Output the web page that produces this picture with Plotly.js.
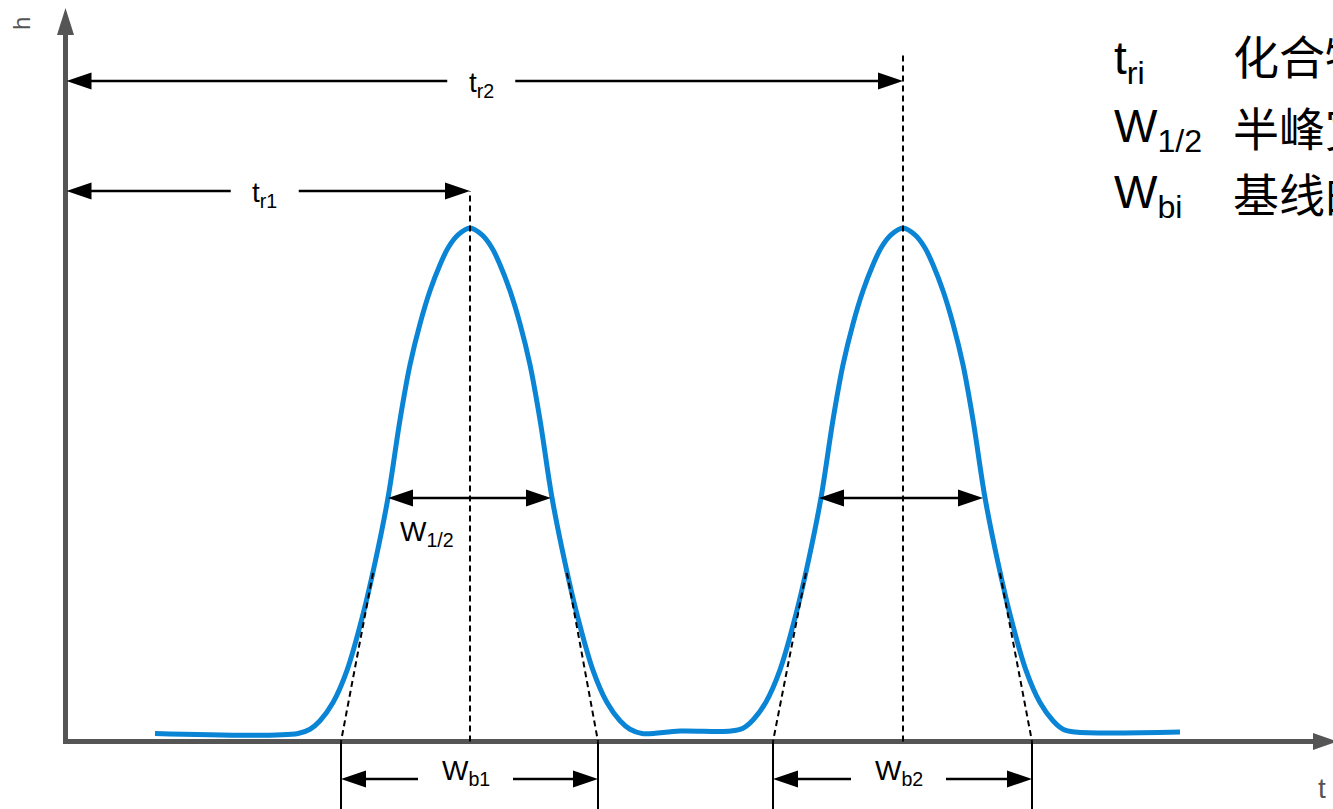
<!DOCTYPE html>
<html>
<head>
<meta charset="utf-8">
<script src="https://cdn.plot.ly/plotly-3.0.1.min.js"></script>
<style>
  html, body { margin: 0; padding: 0; background: #fff; }
  #chart { width: 1333px; height: 809px; }
</style>
</head>
<body>
<div id="chart"></div>
<script>
// detector signal (t = time, h = response, peak = 10)
var signalT = [0.895, 2.325, 2.445, 2.545, 2.675, 2.815, 2.975, 3.095, 3.225, 3.345, 3.445, 3.545, 3.645, 3.745, 3.825, 3.925, 4.045,
  4.165, 4.265, 4.345, 4.445, 4.545, 4.645, 4.745, 4.865, 4.995, 5.115, 5.275, 5.415, 5.545, 5.645, 5.765, 6.145, 6.655,
  6.775, 6.875, 7.005, 7.145, 7.305, 7.425, 7.555, 7.675, 7.775, 7.875, 7.975, 8.075, 8.155, 8.255, 8.375,
  8.495, 8.595, 8.675, 8.775, 8.875, 8.975, 9.075, 9.195, 9.325, 9.445, 9.605, 9.745, 9.875, 9.975, 10.095, 11.145];
var signalH = [0.156, 0.156, 0.238, 0.403, 0.758, 1.385, 2.475, 3.480, 4.746, 6.265, 7.336, 8.134, 8.777, 9.283, 9.611, 9.864, 10.0,
  9.864, 9.611, 9.283, 8.777, 8.134, 7.336, 6.265, 4.746, 3.480, 2.475, 1.385, 0.758, 0.403, 0.238, 0.156, 0.204, 0.204,
  0.260, 0.420, 0.770, 1.395, 2.480, 3.480, 4.746, 6.265, 7.336, 8.134, 8.777, 9.283, 9.611, 9.864, 10.0,
  9.864, 9.611, 9.283, 8.777, 8.134, 7.336, 6.265, 4.746, 3.480, 2.475, 1.385, 0.758, 0.403, 0.238, 0.185, 0.185];

// measurements for each peak
var peakIds = ['1', '2'];
var retentionTimes = [4.045, 8.375];
var halfHeight = 4.742;
var halfWidthStart = [3.225, 7.535];
var halfWidthEnd = [4.855, 9.175];
var baseWidthStart = [2.755, 7.075];
var baseWidthEnd = [5.325, 9.665];
var tangentTopH = 3.282;
var tangentTopLeft = [3.075, 7.405];
var tangentTopRight = [5.015, 9.345];

// legend rows (top right)
var legendSymbols = ['t<sub>ri</sub>', 'W<sub>1/2</sub>', 'W<sub>bi</sub>'];
var legendTexts = ['化合物保留时间', '半峰宽', '基线的峰宽'];

// page geometry: pixels per axis unit, origin of the drawn axes
var T_PX = 100, H_PX = 51.35;
function tAt(px) { return (px - 65.5) / T_PX; }
function hAt(py) { return (741.5 - py) / H_PX; }

var LATIN = 'Liberation Sans, Arial, sans-serif';
var CJK = 'Noto Sans CJK SC, sans-serif';
var AXIS_GREY = '#555555';

var shapes = [];
var annotations = [];

function line(x0, y0, x1, y1, color, width, dash) {
  shapes.push({type: 'line', xref: 'x', yref: 'y', x0: x0, y0: y0, x1: x1, y1: y1,
    line: {color: color, width: width, dash: dash || 'solid'}});
}
function tri(d, color) {
  shapes.push({type: 'path', xref: 'x', yref: 'y', path: d, fillcolor: color, line: {width: 0}});
}
// horizontal arrow, head at "tip"
function hArrow(from, tip, h, color, width, len, half) {
  var dir = tip > from ? 1 : -1;
  var base = tip - dir * len;
  line(from, h, base + dir * 0.01, h, color, width);
  tri('M' + tip + ',' + h + 'L' + base + ',' + (h + half) + 'L' + base + ',' + (h - half) + 'Z', color);
}
function label(text, x, y, size, opts) {
  var a = {xref: 'x', yref: 'y', x: x, y: y, text: text, showarrow: false,
    xanchor: 'center', yanchor: 'middle', font: {family: LATIN, size: size, color: '#000'}};
  for (var k in opts) a[k] = opts[k];
  annotations.push(a);
}

var HEAD_L = 0.25, HEAD_W = 8.5 / H_PX;

// axes with arrow heads
hArrow(tAt(63), tAt(1337), 0, AXIS_GREY, 5, 0.24, HEAD_W);
var yTip = hAt(8), yHeadL = 27 / H_PX;
line(0, hAt(744), 0, yTip - yHeadL + 0.02, AXIS_GREY, 5);
tri('M0,' + yTip + 'L' + (-8.5 / T_PX) + ',' + (yTip - yHeadL) + 'L' + (8.5 / T_PX) + ',' + (yTip - yHeadL) + 'Z', AXIS_GREY);
label('h', tAt(21), hAt(24), 24, {textangle: -90, font: {family: LATIN, size: 24, color: AXIS_GREY}});
label('t', tAt(1322), hAt(788), 28, {font: {family: LATIN, size: 28, color: AXIS_GREY}});

// retention time arrows
var trRows = [hAt(191), hAt(81)];
var trDashTop = [hAt(191), hAt(55)];
var trLabelY = [hAt(194), hAt(84)];
peakIds.forEach(function (id, i) {
  var tr = retentionTimes[i];
  var mid = tr / 2 - 0.03;
  line(tr, 0, tr, trDashTop[i], '#000', 2, '6px,4px');
  hArrow(mid - 0.34, 0.01, trRows[i], '#000', 2.5, HEAD_L, HEAD_W);
  hArrow(mid + 0.34, tr, trRows[i], '#000', 2.5, HEAD_L, HEAD_W);
  label('t<sub>r' + id + '</sub>', mid, trLabelY[i], 28);
});

// half-height widths
peakIds.forEach(function (id, i) {
  var mid = (halfWidthStart[i] + halfWidthEnd[i]) / 2;
  hArrow(mid, halfWidthStart[i], halfHeight, '#000', 2.5, HEAD_L, HEAD_W);
  hArrow(mid, halfWidthEnd[i], halfHeight, '#000', 2.5, HEAD_L, HEAD_W);
});
label('W<sub>1/2</sub>', tAt(398), hAt(533), 28, {xanchor: 'left'});

// tangents and base widths
var wbRow = hAt(779);
peakIds.forEach(function (id, i) {
  line(tangentTopLeft[i], tangentTopH, baseWidthStart[i], 0, '#000', 2, '6px,4px');
  line(tangentTopRight[i], tangentTopH, baseWidthEnd[i], 0, '#000', 2, '6px,4px');
  line(baseWidthStart[i], 0, baseWidthStart[i], hAt(815), '#000', 2);
  line(baseWidthEnd[i], 0, baseWidthEnd[i], hAt(815), '#000', 2);
  var mid = (baseWidthStart[i] + baseWidthEnd[i]) / 2 - 0.04;
  hArrow(mid - 0.475, baseWidthStart[i], wbRow, '#000', 2.5, HEAD_L, HEAD_W);
  hArrow(mid + 0.475, baseWidthEnd[i], wbRow, '#000', 2.5, HEAD_L, HEAD_W);
  label('W<sub>b' + id + '</sub>', mid, hAt(772), 28);
});

// legend text
var symbolY = [hAt(61), hAt(129), hAt(195)];
var textY = [hAt(54), hAt(126), hAt(192)];
legendSymbols.forEach(function (s, i) {
  label(s, tAt(1112), symbolY[i], 46, {xanchor: 'left'});
  label(legendTexts[i], tAt(1231), textY[i], 46, {xanchor: 'left', font: {family: CJK, size: 46, color: '#000'}});
});

var data = [{
  x: signalT,
  y: signalH,
  type: 'scatter',
  mode: 'lines',
  line: {color: '#0a84d4', width: 5, shape: 'spline', smoothing: 1},
  hoverinfo: 'skip'
}];

var layout = {
  width: 1333,
  height: 809,
  margin: {l: 0, r: 0, t: 0, b: 0, pad: 0},
  paper_bgcolor: '#ffffff',
  plot_bgcolor: '#ffffff',
  showlegend: false,
  xaxis: {range: [tAt(0), tAt(1333)], visible: false, fixedrange: true},
  yaxis: {range: [hAt(809), hAt(0)], visible: false, fixedrange: true},
  shapes: shapes,
  annotations: annotations
};

Plotly.newPlot('chart', data, layout, {displayModeBar: false, staticPlot: true});
</script>
</body>
</html>
